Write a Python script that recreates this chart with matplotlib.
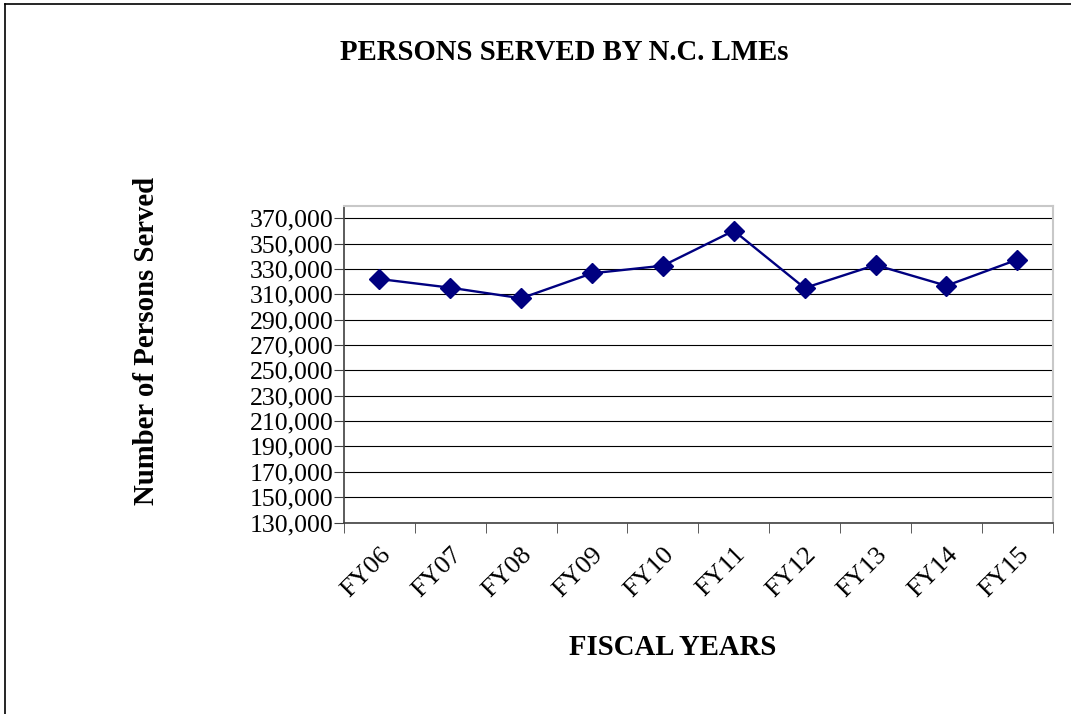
import matplotlib.pyplot as plt
from matplotlib.lines import Line2D
from matplotlib.ticker import FuncFormatter, FixedLocator

years = ["FY06", "FY07", "FY08", "FY09", "FY10", "FY11", "FY12", "FY13", "FY14", "FY15"]
persons = [322100, 315250, 306900, 326600, 332600, 360200, 315000, 333150, 316800, 337350]
y_ticks = list(range(130000, 370001, 20000))


def main():
    plt.rcParams["font.family"] = ["Liberation Serif", "DejaVu Serif"]

    fig = plt.figure(figsize=(10.71, 7.14), dpi=100)
    ax = fig.add_axes([0.3212, 0.2682, 0.6617, 0.4433])

    x = list(range(len(years)))
    ax.plot(x, persons, color="#000080", linewidth=1.7, marker="D",
            markersize=10, zorder=3)

    ax.set_xlim(-0.5, len(years) - 0.5)
    ax.set_ylim(130000, 379700)
    ax.set_yticks(y_ticks)
    ax.yaxis.set_major_formatter(FuncFormatter(lambda v, p: f"{int(v):,}"))
    ax.grid(axis="y", color="black", linewidth=0.8)
    ax.set_axisbelow(True)

    ax.set_xticks(x)
    ax.set_xticklabels(years, rotation=45, ha="right", va="top",
                       rotation_mode="anchor")
    ax.xaxis.set_minor_locator(FixedLocator([i - 0.5 for i in range(len(years) + 1)]))
    ax.tick_params(axis="x", which="major", length=0, pad=15, labelsize=19)
    ax.tick_params(axis="x", which="minor", length=7, direction="out", color="#404040")
    ax.tick_params(axis="y", length=7, direction="out", color="#404040",
                   labelsize=18.5, pad=0.5)

    for s in ("left", "bottom"):
        ax.spines[s].set_color("#404040")
        ax.spines[s].set_linewidth(1.2)
    for s in ("top", "right"):
        ax.spines[s].set_color("#c8c8c8")
        ax.spines[s].set_linewidth(1.5)

    fig.text(0.527, 0.927, "PERSONS SERVED BY N.C. LMEs", ha="center",
             va="center", fontsize=20.7, fontweight="bold")
    fig.text(0.628, 0.093, "FISCAL YEARS", ha="center", va="center",
             fontsize=20.7, fontweight="bold")
    fig.text(0.137, 0.522, "Number of Persons Served", ha="center",
             va="center", rotation=90, fontsize=20.7, fontweight="bold")

    # outer chart border (top and left visible)
    fig.add_artist(Line2D([0.005, 0.005], [0, 0.995], color="black",
                          linewidth=1.2, transform=fig.transFigure))
    fig.add_artist(Line2D([0.005, 1.0], [0.995, 0.995], color="black",
                          linewidth=1.2, transform=fig.transFigure))

    fig.savefig("out.png", dpi=100)


if __name__ == "__main__":
    main()
